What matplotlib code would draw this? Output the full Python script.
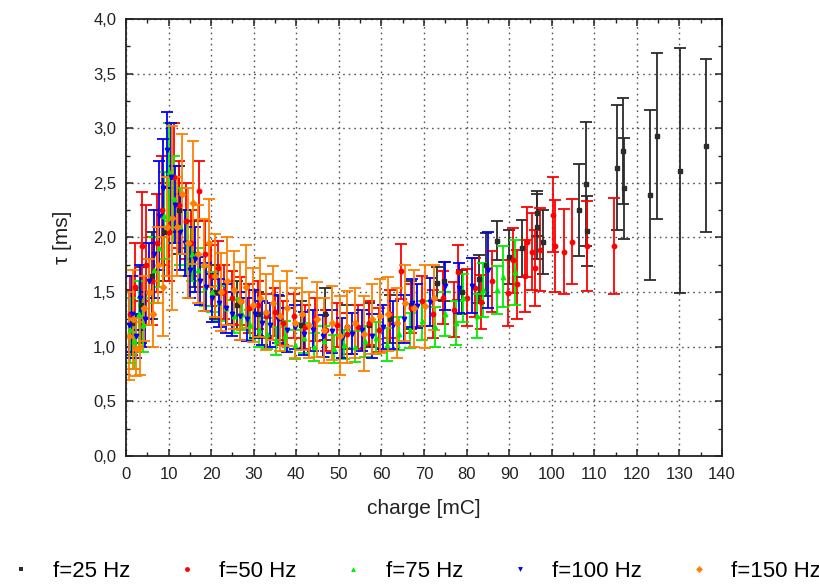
import matplotlib
matplotlib.use("Agg")
import matplotlib.pyplot as plt
from matplotlib.ticker import MultipleLocator, FuncFormatter
from matplotlib.lines import Line2D

plt.rcParams['font.family'] = ['Liberation Sans', 'DejaVu Sans']

# ---- measured lifetime tau vs. accumulated charge, per modulation frequency ----
labels = ["f=25 Hz", "f=50 Hz", "f=75 Hz", "f=100 Hz", "f=150 Hz"]

q25 = [1.5, 3.5, 6, 9, 12.5, 16, 21, 26, 31, 36, 41, 46.8, 52, 57, 62, 67, 73.1, 74.7,
       79, 83, 84.6, 87.2, 90, 93, 96.5, 96.6, 98.0, 106.4, 108.1, 108.2, 115.3, 116.8,
       116.9, 123.1, 124.7, 130.1, 136.2]
t25 = [1.22, 1.38, 1.65, 2.05, 2.25, 1.85, 1.5, 1.38, 1.3, 1.26, 1.2, 1.3, 1.18, 1.2,
       1.25, 1.38, 1.58, 1.6, 1.5, 1.62, 1.75, 1.97, 1.82, 1.9, 2.22, 2.1, 1.96, 2.25,
       2.49, 2.06, 2.64, 2.79, 2.45, 2.39, 2.93, 2.61, 2.84]
e25 = [0.3, 0.35, 0.4, 0.45, 0.4, 0.3, 0.25, 0.22, 0.2, 0.2, 0.22, 0.24, 0.2, 0.2,
       0.22, 0.22, 0.15, 0.18, 0.2, 0.22, 0.29, 0.18, 0.25, 0.26, 0.21, 0.3, 0.29, 0.42,
       0.57, 0.32, 0.57, 0.485, 0.46, 0.775, 0.76, 1.12, 0.79]

q50 = [1.0, 2.2, 3.7, 4.7, 6.0, 7.3, 8.5, 10.0, 11.2, 12.5, 14.0, 15.3, 17.2, 18.5, 20.0,
       21.5, 23.0, 25.0, 27.0, 29.0, 31.0, 33.0, 35.0, 37.0, 39.5, 42.0, 44.5, 47.0, 49.5,
       52.0, 54.5, 57.0, 59.5, 62.0, 64.5, 67.0, 69.5, 72.0, 74.5, 77.1, 78.1, 80.0, 82.0,
       83.3, 86.0, 89.8, 91.0, 91.9, 93.7, 94.3, 95.3, 96.1, 97.2, 100.2, 100.8, 102.9,
       104.8, 108.4, 114.6]
t50 = [1.3, 1.55, 1.92, 1.75, 1.6, 1.95, 2.25, 2.05, 2.55, 2.3, 2.15, 1.95, 2.43, 1.85,
       1.65, 1.72, 1.5, 1.45, 1.42, 1.35, 1.38, 1.28, 1.32, 1.22, 1.28, 1.18, 1.25, 1.15,
       1.2, 1.12, 1.18, 1.22, 1.15, 1.3, 1.69, 1.35, 1.42, 1.3, 1.45, 1.34, 1.68, 1.45,
       1.54, 1.41, 1.6, 1.49, 1.79, 1.57, 1.65, 1.96, 1.87, 1.72, 1.89, 2.21, 1.92, 1.87,
       1.96, 1.92, 1.92]
e50 = [0.35, 0.4, 0.5, 0.55, 0.4, 0.45, 0.5, 0.45, 0.5, 0.4, 0.35, 0.3, 0.27, 0.3, 0.28,
       0.25, 0.25, 0.24, 0.22, 0.22, 0.22, 0.2, 0.22, 0.2, 0.2, 0.2, 0.2, 0.19, 0.2, 0.19,
       0.2, 0.2, 0.2, 0.22, 0.25, 0.22, 0.23, 0.22, 0.24, 0.25, 0.25, 0.26, 0.27, 0.25,
       0.28, 0.3, 0.3, 0.32, 0.33, 0.32, 0.35, 0.35, 0.38, 0.34, 0.42, 0.39, 0.39, 0.41,
       0.44]

q75 = [0.9, 1.9, 3.0, 4.1, 5.3, 6.5, 7.7, 8.9, 10.1, 11.4, 12.7, 14.1, 15.5, 17.0, 18.6,
       20.2, 21.9, 23.6, 25.4, 27.3, 29.2, 31.2, 33.2, 35.3, 37.4, 39.6, 41.8, 44.1, 46.4,
       48.8, 51.2, 53.7, 56.2, 58.8, 61.4, 64.1, 66.8, 69.5, 72.5, 75.0, 77.5, 79.2, 82.4,
       83.9, 87.1, 88.5, 91.4]
t75 = [1.15, 1.05, 1.3, 1.2, 1.5, 1.7, 1.9, 2.2, 2.6, 2.35, 2.1, 1.95, 1.85, 1.7, 1.55,
       1.5, 1.4, 1.35, 1.28, 1.3, 1.2, 1.15, 1.12, 1.05, 1.1, 1.02, 1.08, 1.0, 1.05, 0.98,
       1.02, 1.0, 1.05, 1.08, 1.02, 1.12, 1.15, 1.24, 1.18, 1.3, 1.22, 1.45, 1.28, 1.52,
       1.52, 1.64, 1.68]
e75 = [0.3, 0.25, 0.3, 0.25, 0.3, 0.3, 0.35, 0.4, 0.45, 0.4, 0.35, 0.3, 0.25, 0.2, 0.18,
       0.18, 0.16, 0.15, 0.15, 0.15, 0.14, 0.15, 0.14, 0.13, 0.14, 0.13, 0.14, 0.13, 0.14,
       0.13, 0.13, 0.14, 0.14, 0.15, 0.15, 0.15, 0.16, 0.18, 0.18, 0.2, 0.2, 0.22, 0.2,
       0.25, 0.22, 0.28, 0.3]

q100 = [0.6, 1.4, 2.3, 3.3, 4.4, 5.5, 6.6, 7.7, 8.7, 9.7, 10.6, 11.6, 12.7, 13.8, 15.0,
        16.2, 17.5, 18.9, 20.3, 21.8, 23.4, 25.0, 26.7, 28.4, 30.2, 32.0, 33.9, 35.8, 37.8,
        39.8, 41.9, 44.0, 46.2, 48.4, 50.7, 53.0, 55.4, 57.8, 60.3, 62.8, 65.3, 67.1, 68.4,
        71.4, 74.9, 78.3, 81.3, 85.0]
t100 = [1.2, 1.3, 1.1, 1.45, 1.25, 1.6, 1.85, 2.2, 2.45, 2.8, 2.55, 2.3, 2.05, 1.95, 1.7,
        1.8, 1.6, 1.55, 1.45, 1.4, 1.35, 1.3, 1.28, 1.25, 1.3, 1.22, 1.2, 1.25, 1.15, 1.18,
        1.12, 1.15, 1.1, 1.14, 1.08, 1.12, 1.15, 1.1, 1.18, 1.2, 1.25, 1.40, 1.37, 1.41,
        1.56, 1.54, 1.56, 1.70]
e100 = [0.3, 0.35, 0.2, 0.3, 0.25, 0.35, 0.4, 0.5, 0.45, 0.35, 0.5, 0.35, 0.35, 0.3, 0.25,
        0.3, 0.22, 0.22, 0.22, 0.22, 0.22, 0.2, 0.22, 0.2, 0.22, 0.2, 0.2, 0.22, 0.2, 0.2,
        0.2, 0.19, 0.19, 0.2, 0.18, 0.19, 0.19, 0.2, 0.2, 0.22, 0.22, 0.22, 0.2, 0.22,
        0.22, 0.23, 0.25, 0.35]

q150 = [0.8, 1.6, 2.4, 3.4, 4.2, 5.3, 6.4, 7.5, 8.6, 9.7, 10.8, 12.0, 13.2, 14.5, 15.7,
        17.0, 18.3, 19.6, 21.0, 22.4, 23.8, 25.3, 26.8, 28.3, 29.8, 31.4, 33.0, 34.6, 36.2,
        37.9, 39.6, 41.3, 43.0, 44.8, 46.6, 48.4, 50.2, 52.0, 53.9, 55.8, 57.7, 59.6, 61.6,
        63.6, 65.6, 67.7, 70.2, 72.3]
t150 = [1.1, 1.25, 0.98, 1.0, 1.35, 1.5, 1.3, 1.75, 1.55, 2.1, 2.18, 2.1, 2.4, 1.95, 2.32,
        1.85, 1.75, 1.95, 1.65, 1.5, 1.6, 1.52, 1.42, 1.55, 1.38, 1.45, 1.32, 1.4, 1.28,
        1.35, 1.22, 1.3, 1.2, 1.25, 1.15, 1.22, 1.1, 1.18, 1.22, 1.12, 1.25, 1.28, 1.3, 1.22,
        1.4, 1.35, 1.37, 1.45]
e150 = [0.4, 0.45, 0.25, 0.26, 0.3, 0.3, 0.3, 0.35, 0.45, 0.45, 0.84, 0.45, 0.55, 0.5,
        0.56, 0.45, 0.42, 0.4, 0.38, 0.36, 0.4, 0.36, 0.36, 0.38, 0.34, 0.36, 0.35, 0.34,
        0.32, 0.34, 0.32, 0.33, 0.3, 0.34, 0.3, 0.34, 0.36, 0.33, 0.32, 0.34, 0.32, 0.34,
        0.34, 0.32, 0.35, 0.35, 0.38, 0.3]

series = [
    (q25, t25, e25, "#2b2b2b", "s"),
    (q50, t50, e50, "#ff0000", "o"),
    (q75, t75, e75, "#00ee00", "^"),
    (q100, t100, e100, "#0000ff", "v"),
    (q150, t150, e150, "#ff8000", "D"),
]

fig = plt.figure(figsize=(8.19, 5.84), dpi=100)
ax = fig.add_axes([0.1538, 0.2192, 0.7278, 0.7483])

for (q, t, e, col, mk) in series:
    ax.errorbar(q, t, yerr=e, fmt=mk, color=col, ecolor=col, markersize=3.2,
                elinewidth=1.3, capsize=4.0, capthick=1.3)

ax.set_xlim(0, 140)
ax.set_ylim(0, 4.0)
ax.xaxis.set_major_locator(MultipleLocator(10))
ax.xaxis.set_minor_locator(MultipleLocator(5))
ax.yaxis.set_major_locator(MultipleLocator(0.5))
ax.yaxis.set_minor_locator(MultipleLocator(0.25))
ax.yaxis.set_major_formatter(FuncFormatter(lambda v, p: f"{v:.1f}".replace(".", ",")))

ax.tick_params(which="both", direction="in", top=True, right=True, labelsize=12,
               colors="#222222")
ax.tick_params(which="major", length=5, width=1.1)
ax.tick_params(which="minor", length=3, width=1.0)
ax.tick_params(axis="x", which="major", pad=8)
ax.tick_params(axis="y", which="major", pad=7)
for s in ax.spines.values():
    s.set_linewidth(1.3)
    s.set_color("#222222")

ax.grid(True, which="major", linestyle=(0, (1.2, 2.8)), color="#555555", linewidth=1.0)
ax.set_axisbelow(True)

ax.set_xlabel("charge [mC]", fontsize=15, labelpad=12, color="#222222")
ax.set_ylabel("τ [ms]", fontsize=15, labelpad=15, color="#222222")

handles = [Line2D([], [], linestyle="none", marker=mk, color=col, markersize=3.5,
                  markeredgewidth=0)
           for (_, _, _, col, mk) in series]
fig.legend(handles, labels, ncol=5, loc="center", bbox_to_anchor=(0.507, 0.022),
           frameon=False, fontsize=16, handlelength=1.0, handletextpad=0.95,
           columnspacing=2.05)

fig.savefig("out.png", dpi=100)
